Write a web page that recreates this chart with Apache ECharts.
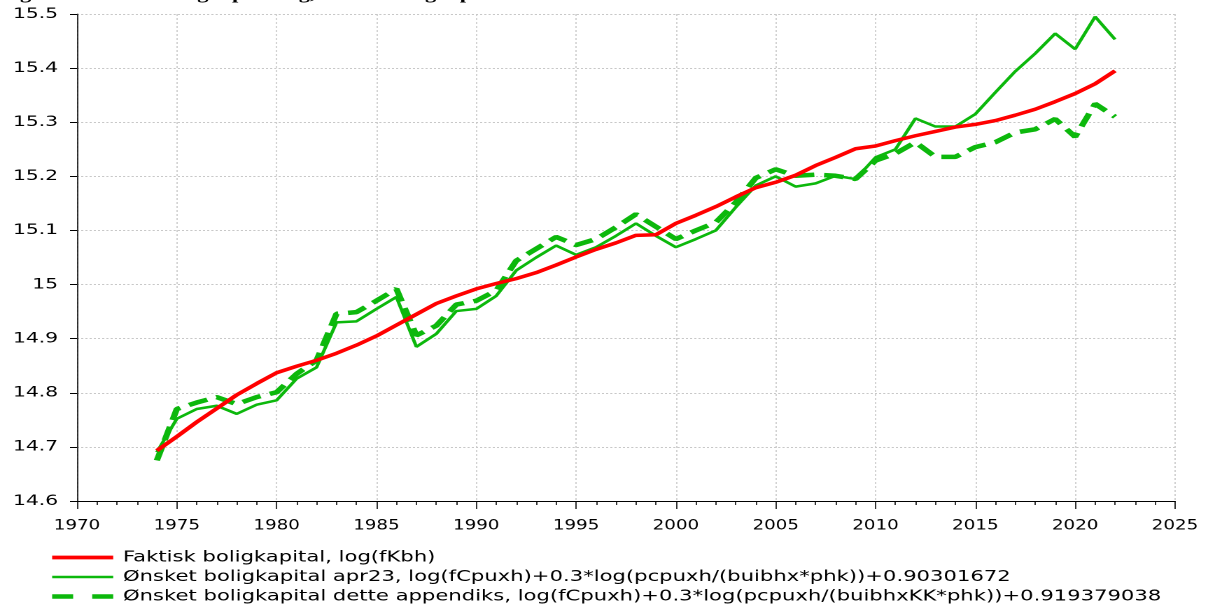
<!DOCTYPE html>
<html>
<head>
<meta charset="utf-8">
<script src="https://cdn.jsdelivr.net/npm/echarts@6/dist/echarts.min.js"></script>
<style>
html,body{margin:0;padding:0;background:#fff;overflow:hidden;}
#wrap{width:1215px;height:604px;overflow:hidden;position:relative;}
#c{width:868px;height:604px;transform:scaleX(1.39977);transform-origin:0 0;position:absolute;left:0;top:0;}
</style>
</head>
<body>
<div id="wrap"><div id="c"></div></div>
<script>
const years = [1974,1975,1976,1977,1978,1979,1980,1981,1982,1983,1984,1985,1986,1987,1988,1989,1990,1991,1992,1993,1994,1995,1996,1997,1998,1999,2000,2001,2002,2003,2004,2005,2006,2007,2008,2009,2010,2011,2012,2013,2014,2015,2016,2017,2018,2019,2020,2021,2022];
const faktisk = [14.693,14.719,14.746,14.771,14.796,14.817,14.837,14.849,14.860,14.873,14.888,14.905,14.925,14.945,14.965,14.979,14.992,15.002,15.011,15.022,15.036,15.051,15.065,15.077,15.091,15.092,15.113,15.128,15.144,15.162,15.179,15.189,15.202,15.220,15.235,15.251,15.256,15.266,15.275,15.283,15.291,15.296,15.303,15.313,15.324,15.338,15.353,15.371,15.395];
const onsketApr23 = [14.690,14.752,14.770,14.776,14.761,14.778,14.786,14.826,14.847,14.930,14.932,14.955,14.977,14.885,14.909,14.951,14.955,14.979,15.026,15.050,15.072,15.055,15.069,15.090,15.113,15.090,15.069,15.084,15.100,15.143,15.183,15.200,15.181,15.187,15.201,15.195,15.235,15.250,15.307,15.292,15.292,15.315,15.355,15.394,15.427,15.464,15.435,15.495,15.453];
const onsketAppendiks = [14.675,14.770,14.782,14.792,14.779,14.792,14.801,14.835,14.860,14.946,14.949,14.970,14.992,14.906,14.924,14.963,14.970,14.989,15.044,15.066,15.088,15.073,15.084,15.106,15.130,15.107,15.084,15.100,15.115,15.152,15.197,15.213,15.201,15.203,15.201,15.195,15.229,15.242,15.263,15.236,15.236,15.254,15.263,15.281,15.287,15.306,15.273,15.334,15.310];
const seriesNames = [
  'Faktisk boligkapital, log(fKbh)',
  'Ønsket boligkapital apr23, log(fCpuxh)+0.3*log(pcpuxh/(buibhx*phk))+0.90301672',
  'Ønsket boligkapital dette appendiks, log(fCpuxh)+0.3*log(pcpuxh/(buibhxKK*phk))+0.919379038'
];
const titleText = 'Figur 1: Faktisk boligkapital log, ønsket boligkapital';

const pair = (arr) => years.map((y, i) => [y, arr[i]]);
const font = 'DejaVu Sans, Verdana, sans-serif';
const fontCond = 'DejaVu Sans Condensed, DejaVu Sans, sans-serif';
const red = '#ff0000';
const green = '#0cb80c';

const chart = echarts.init(document.getElementById('c'), null, {renderer: 'canvas', devicePixelRatio: 2});
chart.setOption({
  animation: false,
  backgroundColor: '#ffffff',
  title: {
    text: titleText,
    left: 0, top: -13, padding: 0,
    textStyle: {fontFamily: 'Liberation Serif, Times New Roman, serif', fontWeight: 'bold', fontSize: 16, color: '#000'}
  },
  grid: {left: 55, right: 28.6, top: 14, bottom: 103},
  legend: {
    orient: 'vertical',
    left: 35, top: 550, padding: 0,
    itemWidth: 43.6, itemHeight: 14, itemGap: 4.5,
    itemStyle: {opacity: 0, borderWidth: 0},
    textStyle: {fontFamily: font, fontSize: 15.1, color: '#000', padding: [0, 0, 0, 2]},
    data: [
      {name: seriesNames[0], lineStyle: {width: 3.8}},
      {name: seriesNames[1], lineStyle: {width: 2.6}},
      {name: seriesNames[2], lineStyle: {type: [15, 13.6], width: 4.5}}
    ]
  },
  xAxis: {
    type: 'value', min: 1970, max: 2025, interval: 5,
    axisLine: {show: true, onZero: false, lineStyle: {color: '#000', width: 1}},
    axisTick: {show: true, inside: false, length: 8, lineStyle: {color: '#000', width: 0.8}},
    minorTick: {show: true, splitNumber: 5, length: 4, lineStyle: {color: '#000', width: 0.8}},
    axisLabel: {margin: 17, fontFamily: fontCond, fontSize: 14.5, color: '#000', formatter: v => String(v)},
    splitLine: {show: true, lineStyle: {color: '#c8c8c8', type: [2, 2], width: 0.8}}
  },
  yAxis: {
    type: 'value', min: 14.6, max: 15.5, interval: 0.1,
    axisLine: {show: true, onZero: false, lineStyle: {color: '#000', width: 0.8}},
    axisTick: {show: true, inside: false, length: 5, lineStyle: {color: '#000'}},
    axisLabel: {margin: 13.5, fontFamily: font, fontSize: 14.5, color: '#000',
      formatter: v => String(Math.round(v * 10) / 10)},
    splitLine: {show: true, lineStyle: {color: '#c8c8c8', type: [1.5, 1.5], width: 1}}
  },
  series: [
    {name: seriesNames[0], type: 'line', data: pair(faktisk), symbol: 'none',
     lineStyle: {color: red, width: 3.5}, itemStyle: {color: red}, z: 3},
    {name: seriesNames[1], type: 'line', data: pair(onsketApr23), symbol: 'none',
     lineStyle: {color: green, width: 2.5}, itemStyle: {color: green}, z: 2},
    {name: seriesNames[2], type: 'line', data: pair(onsketAppendiks), symbol: 'none',
     lineStyle: {color: green, width: 4.5, type: [14, 7]}, itemStyle: {color: green}, z: 2}
  ]
});
</script>
</body>
</html>
